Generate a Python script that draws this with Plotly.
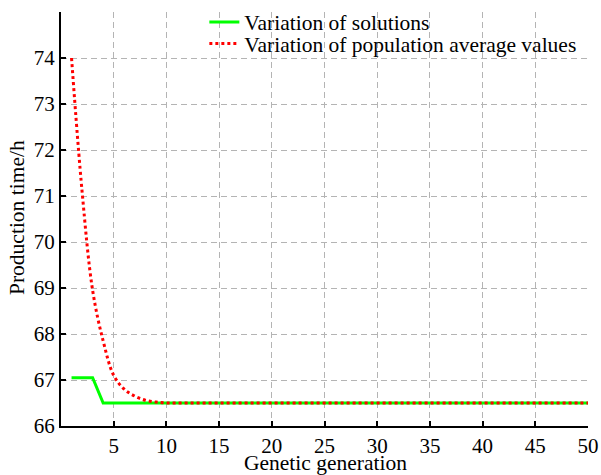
import plotly.graph_objects as go

generations = list(range(1, 51))
solution_values = [67.05, 67.05, 67.05] + [66.5] * 47
population_avg = [74.0, 71.1, 68.95, 67.85, 67.1, 66.8, 66.65, 66.56, 66.52] + [66.5] * 41

y_ticks = [66, 67, 68, 69, 70, 71, 72, 73, 74]
x_ticks = [5, 10, 15, 20, 25, 30, 35, 40, 45, 50]
x_title = "Genetic generation"
y_title = "Production time/h"

fig = go.Figure()
fig.add_trace(go.Scatter(x=generations, y=solution_values, mode="lines",
                         name="Variation of solutions", legend="legend",
                         line=dict(color="#00ff00", width=3)))
fig.add_trace(go.Scatter(x=generations, y=population_avg, mode="lines",
                         name="Variation of population average values", legend="legend2",
                         line=dict(color="#ff0000", width=3, dash="dot", shape="spline")))

fam = "Liberation Serif, Times New Roman, Times, serif"
font = dict(family=fam, size=21.5, color="black")
tick_font = dict(family=fam, size=21, color="black")

# paper area: x 61..588 px (527 wide), y 0..426 px (426 tall); plot top at 12 px
PW, PH = 527.0, 426.0

leg_common = dict(xanchor="left", yanchor="middle", bgcolor="rgba(0,0,0,0)",
                  font=font, itemwidth=30, borderwidth=0)
fig.update_layout(
    width=601, height=475,
    margin=dict(l=61, r=13, t=0, b=49),
    paper_bgcolor="white", plot_bgcolor="white",
    font=font,
    showlegend=True,
    legend=dict(x=0.272, y=(PH - 22) / PH, **leg_common),
    legend2=dict(x=0.272, y=(PH - 43.5) / PH, **leg_common),
)
fig.update_xaxes(range=[0, 50], tickvals=x_ticks, ticks="inside", ticklen=5,
                 tickwidth=1.5, tickcolor="black", showline=True, linecolor="black",
                 linewidth=2, showgrid=True, gridcolor="#b4b4b4", gridwidth=1.3,
                 griddash="6px,4px", zeroline=False, automargin=False,
                 tickfont=tick_font)
fig.update_yaxes(range=[66, 75], tickvals=y_ticks, ticks="inside", ticklen=5,
                 tickwidth=1.5, tickcolor="black", showline=True, linecolor="black",
                 linewidth=2, showgrid=True, gridcolor="#b4b4b4", gridwidth=1.3,
                 griddash="6px,4px", zeroline=False, automargin=False,
                 domain=[0, (PH - 12) / PH], tickfont=tick_font)

fig.add_annotation(text=x_title, xref="paper", yref="paper",
                   x=(325 - 61) / PW, y=-(463 - 426) / PH,
                   xanchor="center", yanchor="middle", showarrow=False, font=font,
                   borderpad=0)
fig.add_annotation(text=y_title, xref="paper", yref="paper",
                   x=-(61 - 17) / PW, y=(426 - 218) / PH, textangle=-90,
                   xanchor="center", yanchor="middle", showarrow=False, font=font,
                   borderpad=0)

fig.write_html("out.html", config={"displayModeBar": False},
               post_script="document.body.style.margin='0';")
